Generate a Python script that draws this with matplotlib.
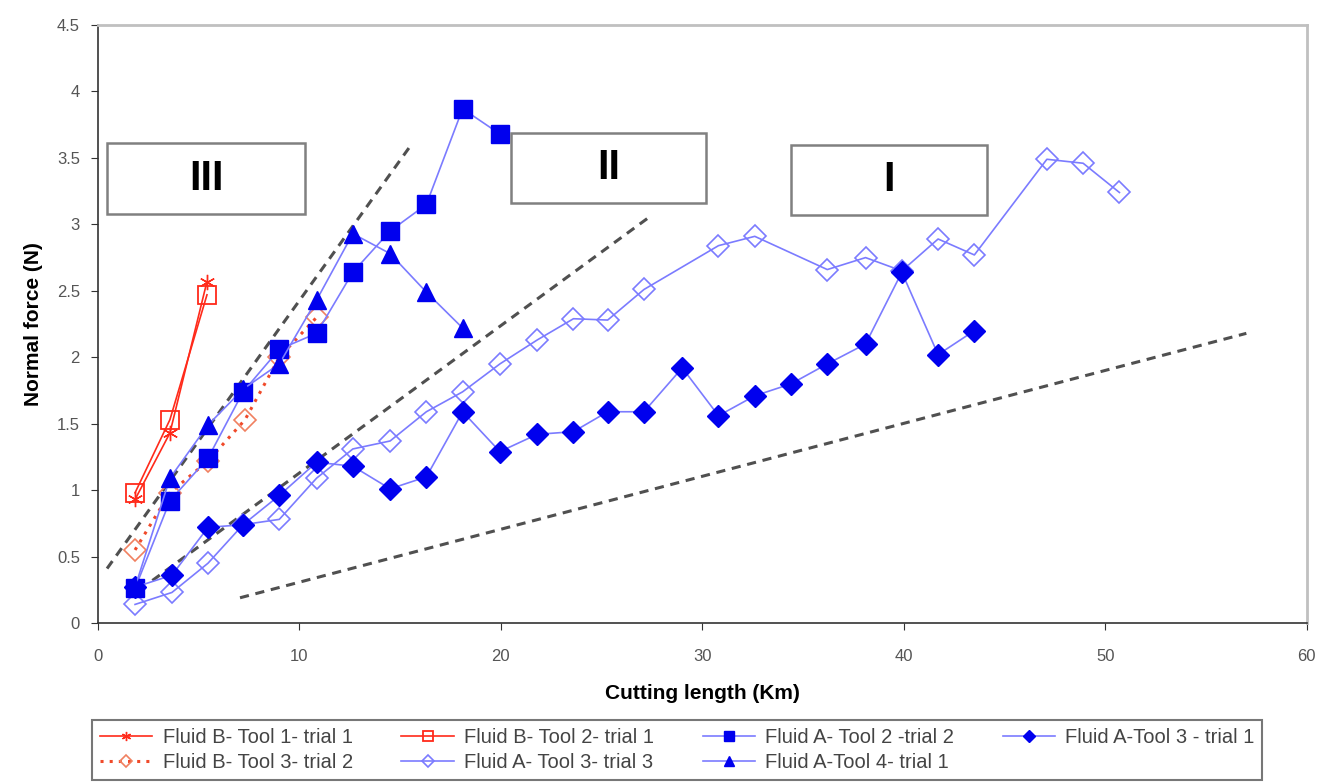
import numpy as np
import matplotlib.pyplot as plt
from matplotlib.patches import Rectangle

plt.rcParams['font.family'] = ['Liberation Sans', 'DejaVu Sans']

# Fluid B
b_t1_x = [1.84, 3.57, 5.41]
b_t1_y = [0.93, 1.43, 2.57]
b_t2_x = [1.84, 3.57, 5.41]
b_t2_y = [0.98, 1.53, 2.47]
b_t3_x = [1.84, 3.57, 5.46, 7.3, 9.0, 10.85]
b_t3_y = [0.55, 0.98, 1.22, 1.53, 2.0, 2.30]

# Fluid A
a_t2_x = [1.84, 3.57, 5.46, 7.2, 9.0, 10.85, 12.65, 14.5, 16.3, 18.1, 19.95]
a_t2_y = [0.26, 0.92, 1.24, 1.74, 2.06, 2.18, 2.64, 2.95, 3.15, 3.87, 3.68]
a_t4_x = [1.84, 3.57, 5.46, 7.2, 9.0, 10.85, 12.65, 14.5, 16.3, 18.1]
a_t4_y = [0.27, 1.09, 1.49, 1.76, 1.95, 2.43, 2.93, 2.78, 2.49, 2.22]
a_t3_1_x = [1.84, 3.67, 5.46, 7.2, 9.0, 10.85, 12.65, 14.5, 16.3, 18.1, 19.95, 21.8,
            23.6, 25.3, 27.1, 29.0, 30.8, 32.6, 34.4, 36.2, 38.1, 39.9, 41.7, 43.5]
a_t3_1_y = [0.27, 0.36, 0.72, 0.74, 0.96, 1.21, 1.18, 1.01, 1.10, 1.59, 1.29, 1.42,
            1.44, 1.59, 1.59, 1.92, 1.56, 1.71, 1.80, 1.95, 2.10, 2.64, 2.02, 2.20]
a_t3_3_x = [1.84, 3.67, 5.46, 7.2, 9.0, 10.85, 12.65, 14.5, 16.3, 18.1, 19.95, 21.8,
            23.6, 25.3, 27.1, 30.8, 32.6, 36.2, 38.1, 39.9, 41.7, 43.5, 47.1, 48.9, 50.7]
a_t3_3_y = [0.14, 0.23, 0.45, 0.74, 0.78, 1.09, 1.31, 1.37, 1.59, 1.74, 1.95, 2.13,
            2.29, 2.28, 2.51, 2.84, 2.91, 2.66, 2.75, 2.65, 2.89, 2.77, 3.49, 3.46, 3.24]

# wear-rate guide lines (start, end)
guide_x = [[0.45, 15.6], [2.7, 27.5], [7.05, 57.0]]
guide_y = [[0.41, 3.61], [0.32, 3.07], [0.19, 2.18]]

fig = plt.figure(figsize=(13.24, 7.83), dpi=100)
ax = fig.add_axes([0.074, 0.2043, 0.913, 0.7637])

red = '#ff2a1a'
blue = '#0000ee'
lblue = '#7b7bff'

for gx, gy in zip(guide_x, guide_y):
    ax.plot(gx, gy, color='#505050', ls=(0, (3, 2.2)), lw=2.2, zorder=2)

l1, = ax.plot(b_t1_x, b_t1_y, color=red, lw=1.2, marker=(6, 2, 0), ms=11, mew=1.0,
              label='Fluid B- Tool 1- trial 1', zorder=4)
l2, = ax.plot(b_t2_x, b_t2_y, color=red, lw=1.2, marker='s', ms=13, mfc='none', mew=1.3,
              label='Fluid B- Tool 2- trial 1', zorder=4)
l5, = ax.plot(b_t3_x, b_t3_y, color='#f04a2a', lw=2.2, ls=(0, (1, 2)), marker='D', ms=11,
              mfc='none', mec='#f08060', mew=1.2, label='Fluid B- Tool 3- trial 2', zorder=3)
l3, = ax.plot(a_t2_x, a_t2_y, color=lblue, lw=1.2, marker='s', ms=13, mfc=blue, mec=blue,
              label='Fluid A- Tool 2 -trial 2', zorder=5)
l4, = ax.plot(a_t3_1_x, a_t3_1_y, color=lblue, lw=1.2, marker='D', ms=11, mfc=blue, mec=blue,
              label='Fluid A-Tool 3 - trial 1', zorder=5)
l6, = ax.plot(a_t3_3_x, a_t3_3_y, color=lblue, lw=1.2, marker='D', ms=11, mfc='none', mec=lblue,
              mew=1.2, label='Fluid A- Tool 3- trial 3', zorder=4)
l7, = ax.plot(a_t4_x, a_t4_y, color=lblue, lw=1.2, marker='^', ms=13, mfc=blue, mec=blue,
              label='Fluid A-Tool 4- trial 1', zorder=5)

# region boxes
for (x0, y0, w, h, txt) in [(0.45, 3.08, 9.85, 0.53, 'III'),
                            (20.5, 3.16, 9.7, 0.53, 'II'),
                            (34.4, 3.07, 9.75, 0.53, 'I')]:
    ax.add_patch(Rectangle((x0, y0), w, h, fill=True, fc='white', ec='#808080', lw=1.8, zorder=6))
    ax.text(x0 + w / 2, y0 + h / 2, txt, ha='center', va='center', fontsize=30,
            fontweight='bold', zorder=7)

ax.set_xlim(0, 60)
ax.set_ylim(0, 4.5)
ax.set_xticks(np.arange(0, 61, 10))
ax.set_yticks(np.arange(0, 4.51, 0.5))
ax.set_yticklabels(['%g' % v for v in np.arange(0, 4.51, 0.5)])
ax.tick_params(direction='out', length=5, colors='#333333', labelcolor='#555555',
               labelsize=12, pad=8)
ax.tick_params(axis='x', pad=14)
for s in ['top', 'right']:
    ax.spines[s].set_color('#c0c0c0')
    ax.spines[s].set_linewidth(2)
for s in ['left', 'bottom']:
    ax.spines[s].set_color('#333333')
    ax.spines[s].set_linewidth(1.2)

ax.set_xlabel('Cutting length (Km)', fontsize=15, fontweight='bold', labelpad=14)
ax.set_ylabel('Normal force (N)', fontsize=15, fontweight='bold', labelpad=10)

order = [l1, l5, l2, l6, l3, l7, l4]
leg = fig.legend(order, [h.get_label() for h in order],
                 ncol=4, loc='lower left', bbox_to_anchor=(0.0695, 0.004, 0.884, 0.079),
                 mode='expand', fontsize=14.5, frameon=True, fancybox=False,
                 edgecolor='#555555', handlelength=2.6, handletextpad=0.5, markerscale=0.6,
                 borderpad=0.4, labelspacing=0.3, columnspacing=1.0, borderaxespad=0)
leg.get_frame().set_linewidth(1.5)
for t in leg.get_texts():
    t.set_color('#444444')

fig.savefig('out.png', dpi=100)
